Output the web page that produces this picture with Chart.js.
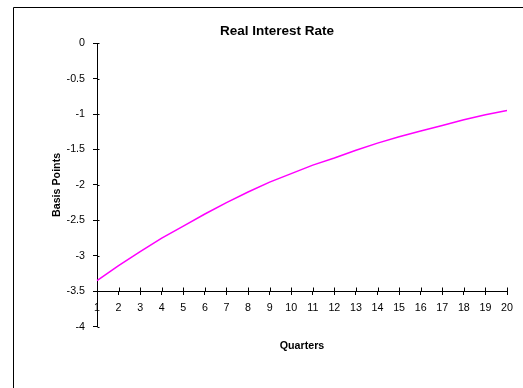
<!DOCTYPE html>
<html>
<head>
<meta charset="utf-8">
<script src="https://cdn.jsdelivr.net/npm/chart.js@4"></script>
<style>
  html, body { margin: 0; padding: 0; background: #fff; overflow: hidden; }
  canvas { display: block; }
</style>
</head>
<body>
<canvas id="chart" width="523" height="388"></canvas>
<script>
const quarters = [1, 2, 3, 4, 5, 6, 7, 8, 9, 10, 11, 12, 13, 14, 15, 16, 17, 18, 19, 20];
const realRate = [-3.35, -3.14, -2.94, -2.75, -2.58, -2.41, -2.25, -2.10, -1.96, -1.84,
                  -1.72, -1.62, -1.51, -1.41, -1.32, -1.24, -1.16, -1.08, -1.01, -0.95];
const yTicks = [0, -0.5, -1, -1.5, -2, -2.5, -3, -3.5, -4];
const xAxisAt = -3.5;

const FONT = "'Liberation Sans', Arial, sans-serif";

// outer frame, only left and top edges are visible in the picture
const framePlugin = {
  id: "frame",
  beforeDraw(chart) {
    const ctx = chart.ctx;
    ctx.save();
    ctx.fillStyle = "#fff";
    ctx.fillRect(0, 0, chart.width, chart.height);
    ctx.restore();
  },
  afterDraw(chart) {
    const ctx = chart.ctx;
    ctx.save();
    // keep the right strip clean
    ctx.fillStyle = "#fff";
    ctx.fillRect(514, 0, chart.width - 514, chart.height);
    ctx.strokeStyle = "#000";
    ctx.lineWidth = 1;
    ctx.beginPath();
    ctx.moveTo(13.5, chart.height);
    ctx.lineTo(13.5, 7.5);
    ctx.lineTo(chart.width, 7.5);
    ctx.stroke();
    ctx.restore();
  },
};

// the ticks cross the axis lines, draw the inner part
const innerTicks = {
  id: "innerTicks",
  afterDraw(chart) {
    const { x, y } = chart.scales;
    const ctx = chart.ctx;
    const ay = Math.round(y.getPixelForValue(xAxisAt)) + 0.5;
    const ax = Math.round(y.right) + 0.5;
    ctx.save();
    ctx.strokeStyle = "#000";
    ctx.lineWidth = 1;
    ctx.beginPath();
    x.ticks.forEach((t, i) => {
      const px = Math.round(x.getPixelForTick(i)) + 0.5;
      ctx.moveTo(px, ay);
      ctx.lineTo(px, ay - 4);
    });
    y.ticks.forEach((t, i) => {
      const py = Math.round(y.getPixelForTick(i)) + 0.5;
      ctx.moveTo(ax, py);
      ctx.lineTo(ax + 2, py);
    });
    ctx.stroke();
    ctx.restore();
  },
};

const ctx = document.getElementById("chart").getContext("2d");
new Chart(ctx, {
  type: "line",
  data: {
    labels: quarters,
    datasets: [
      {
        label: "Real Interest Rate",
        data: realRate,
        borderColor: "#ff00ff",
        borderWidth: 1.5,
        pointRadius: 0,
        fill: false,
        tension: 0,
      },
    ],
  },
  options: {
    responsive: false,
    animation: false,
    layout: { padding: { left: 47, right: 16, top: 0, bottom: 35.5 } },
    plugins: {
      legend: { display: false },
      tooltip: { enabled: false },
      title: {
        display: true,
        text: "Real Interest Rate",
        color: "#000",
        font: { family: FONT, size: 13.5, weight: "bold" },
        padding: { top: 23.5, bottom: 3.5 },
      },
      subtitle: {
        display: true,
        position: "bottom",
        fullSize: false,
        text: "Quarters",
        color: "#000",
        font: { family: FONT, size: 10.7, weight: "bold" },
        padding: { top: 13, bottom: 0 },
      },
    },
    scales: {
      x: {
        type: "category",
        offset: false,
        position: { y: xAxisAt },
        grid: { drawOnChartArea: false, drawTicks: true, tickLength: 3, color: "#000" },
        border: { display: true, color: "#000", width: 1 },
        ticks: {
          color: "#000",
          font: { family: FONT, size: 10.7 },
          padding: 7,
          maxRotation: 0,
          autoSkip: false,
        },
      },
      y: {
        min: -4,
        max: 0,
        afterBuildTicks: (scale) => {
          scale.ticks = yTicks.map((v) => ({ value: v }));
        },
        afterFit: (scale) => {
          scale.width = 50;
        },
        grid: { drawOnChartArea: false, drawTicks: true, tickLength: 4, color: "#000" },
        border: { display: true, color: "#000", width: 1 },
        ticks: {
          color: "#000",
          font: { family: FONT, size: 10.7 },
          padding: 8,
          callback: (v) => String(v),
        },
        title: {
          display: true,
          text: "Basis Points",
          color: "#000",
          font: { family: FONT, size: 10.7, weight: "bold" },
          padding: { top: 4, bottom: 0 },
        },
      },
    },
  },
  plugins: [innerTicks, framePlugin],
});
</script>
</body>
</html>
